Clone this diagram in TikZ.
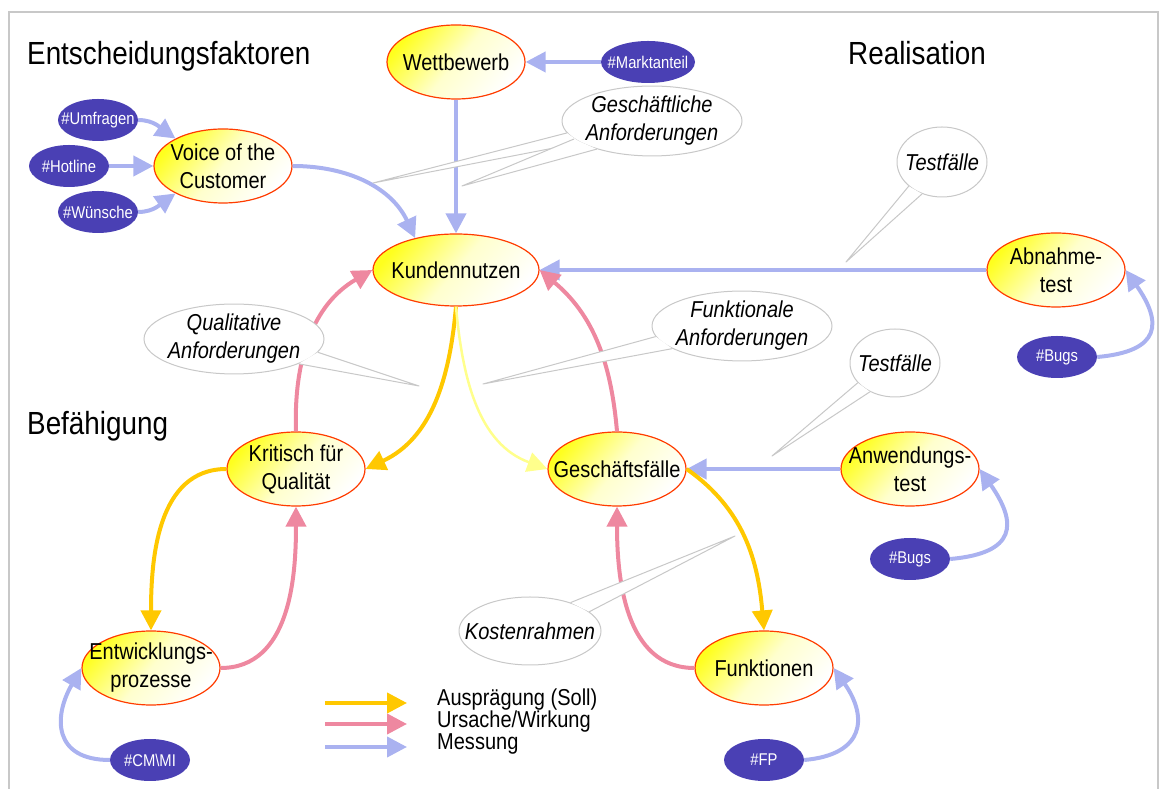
\documentclass[tikz,border=0pt]{standalone}
\usepackage{fontspec}
\setmainfont{Liberation Sans}[FakeStretch=0.87]
\usetikzlibrary{arrows.meta,shapes.geometric}
\definecolor{cptred}{RGB}{255,60,0}
\definecolor{cptyellow}{RGB}{255,255,30}
\definecolor{metricviolet}{RGB}{74,64,180}
\definecolor{measblue}{RGB}{170,178,240}
\definecolor{causepink}{RGB}{238,136,160}
\definecolor{sollgold}{RGB}{255,200,0}
\definecolor{palegold}{RGB}{255,255,140}
\definecolor{notegray}{RGB}{200,200,200}

\begin{document}
\begin{tikzpicture}[x=1pt,y=1pt,
  concept/.style={ellipse,draw=cptred,line width=1.2pt,top color=cptyellow,bottom color=white,middle color=cptyellow!22,shading angle=50,minimum width=138pt,minimum height=74pt,inner xsep=-25pt,inner ysep=0pt,align=center,font=\fontsize{23}{28}\selectfont},
  metric/.style={ellipse,fill=metricviolet,text=white,minimum width=80pt,minimum height=42pt,inner xsep=-20pt,inner ysep=0pt,font=\fontsize{17}{19}\selectfont},
  bubble/.style={ellipse,draw=notegray,fill=white,line width=1pt,minimum height=68pt,inner xsep=-20pt,inner ysep=0pt,align=center,font=\fontsize{23}{28}\selectfont\itshape},
  tail/.style={draw=notegray,line width=1pt,line join=round},
  region/.style={anchor=base west,inner sep=0pt,font=\fontsize{32}{36}\selectfont},
  legend/.style={anchor=west,inner sep=0pt,font=\fontsize{23}{25}\selectfont},
  link/.style={line width=4pt,-{Triangle[length=20pt,width=20pt]}},
  measure/.style={link,draw=measblue},
  cause/.style={link,draw=causepink},
  soll/.style={link,draw=sollgold},
  pale/.style={link,draw=palegold,line width=2.5pt}]
  \useasboundingbox (0,0) rectangle (1164,789);
  \draw[notegray,line width=2pt] (9,0) |- (1158,777) -- (1158,0);

  \node[region] (hdec) at (27,724) {Entscheidungsfaktoren};
  \node[region] (hreal) at (848,724) {Realisation};
  \node[region] (hbef) at (27,354) {Befähigung};

  \node[concept] (wett) at (456,727) {Wettbewerb};
  \node[metric,minimum width=94pt] (markt) at (648,727) {\#Marktanteil};
  \node[concept] (voice) at (223,623) {Voice of the\\Customer};
  \node[metric] (umfr) at (98,669) {\#Umfragen};
  \node[metric] (hotl) at (69,623) {\#Hotline};
  \node[metric] (wuen) at (98,577) {\#Wünsche};
  \node[concept,minimum width=166pt,minimum height=72pt] (kunde) at (456,519) {Kundennutzen};
  \node[concept] (abn) at (1056,519) {Abnahme-\\test};
  \node[metric] (bugsa) at (1057,432) {\#Bugs};
  \node[concept] (krit) at (296,320) {Kritisch für\\Qualität};
  \node[concept] (gesch) at (617,320) {Geschäftsfälle};
  \node[concept] (anw) at (910,320) {Anwendungs-\\test};
  \node[metric] (bugsb) at (910,230) {\#Bugs};
  \node[concept] (entw) at (151,121) {Entwicklungs-\\prozesse};
  \node[metric] (cmmi) at (150,29) {\#CM\textbackslash MI};
  \node[concept] (funk) at (764,121) {Funktionen};
  \node[metric] (fp) at (764,29) {\#FP};

  \draw[measure] (markt) -- (wett);
  \draw[measure] (wett) -- (kunde);
  \draw[measure] (umfr.east) to[out=0,in=145] (voice.150);
  \draw[measure] (hotl) -- (voice);
  \draw[measure] (wuen.east) to[out=0,in=-145] (voice.-150);
  \draw[measure] (voice.east) to[out=0,in=115] (kunde.142);
  \draw[measure] (abn) -- (kunde);
  \draw[measure] (bugsa.east) to[out=5,in=-55,looseness=1.8] (abn.east);
  \draw[soll] (kunde.south) to[out=-95,in=25] (krit.east);
  \draw[pale] (kunde.south) to[out=-85,in=160] (gesch.west);
  \draw[cause] (krit.north) to[out=92,in=210] (kunde.west);
  \draw[cause] (gesch.north) to[out=95,in=-40] (kunde.east);
  \draw[measure] (anw) -- (gesch);
  \draw[measure] (bugsb.east) to[out=5,in=-55,looseness=1.8] (anw.east);
  \draw[soll] (krit.west) to[out=180,in=90] (entw.north);
  \draw[cause] (entw.east) to[out=0,in=-90] (krit.south);
  \draw[soll] (gesch.east) to[out=-35,in=95] (funk.north);
  \draw[cause] (funk.west) to[out=180,in=-90] (gesch.south);
  \draw[measure] (fp.east) to[out=5,in=-55,looseness=1.6] (funk.east);
  \draw[measure] (cmmi.west) to[out=180,in=-120,looseness=1.5] (entw.west);

  % speech bubbles
  \node[bubble,minimum width=180pt] (gbub) at (652,668) {Geschäftliche\\Anforderungen};
  \node[bubble,minimum width=180pt] (qbub) at (234,450) {Qualitative\\Anforderungen};
  \node[bubble,minimum width=180pt] (fbub) at (742,463) {Funktionale\\Anforderungen};
  \node[bubble,minimum width=90pt,minimum height=70pt] (tbuba) at (942,627) {Testfälle};
  \node[bubble,minimum width=90pt] (tbubb) at (895,426) {Testfälle};
  \node[bubble,minimum width=142pt] (kbub) at (530,158) {Kostenrahmen};
  \coordinate (gtipa) at (373,606);
  \coordinate (gtipb) at (462,603);
  \coordinate (qtip) at (419,403);
  \coordinate (ftip) at (483,405);
  \coordinate (ttipa) at (846,527);
  \coordinate (ttipb) at (772,333);
  \coordinate (ktip) at (735,253);
  \foreach \b/\p/\t/\q in {gbub/188/gtipa/197,gbub/193/gtipb/207,qbub/351/qtip/339,fbub/187/ftip/198,tbuba/216/ttipa/238,tbubb/208/ttipb/229,kbub/35/ktip/18}{
    \fill[white] (\b.\p) -- (\t) -- (\b.\q) -- cycle;
    \draw[tail] (\b.\p) -- (\t) -- (\b.\q);
  }

  \node[legend] (lsoll) at (437,89) {Ausprägung (Soll)};
  \node[legend] (lcause) at (437,67) {Ursache/Wirkung};
  \node[legend] (lmeas) at (437,45) {Messung};
  \draw[soll] ([xshift=-112pt,yshift=-3pt]lsoll.west) -- ([xshift=-30pt,yshift=-3pt]lsoll.west);
  \draw[cause] ([xshift=-112pt,yshift=-2pt]lcause.west) -- ([xshift=-30pt,yshift=-2pt]lcause.west);
  \draw[measure] ([xshift=-112pt,yshift=-3pt]lmeas.west) -- ([xshift=-30pt,yshift=-3pt]lmeas.west);
\end{tikzpicture}
\end{document}
